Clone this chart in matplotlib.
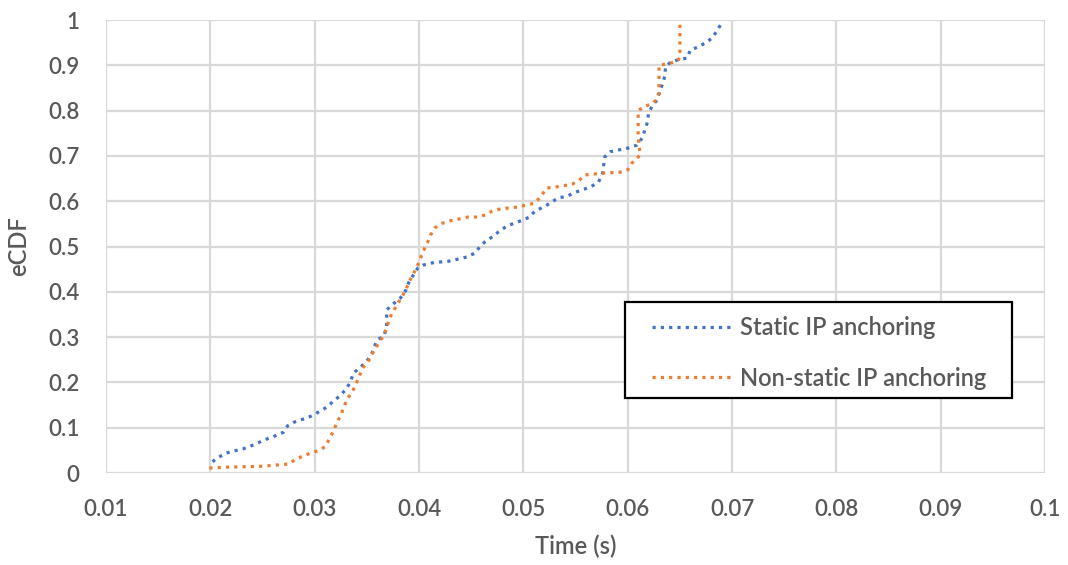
import matplotlib.pyplot as plt
from matplotlib.patches import Rectangle

# eCDF curves (time in s, cumulative fraction)
static_t = [0.0202, 0.0208, 0.0215, 0.0223, 0.0231, 0.0239, 0.0247, 0.0254, 0.0262, 0.0270,
            0.0274, 0.0281, 0.0289, 0.0297, 0.0304, 0.0312, 0.0318, 0.0324, 0.0330, 0.0334,
            0.0337, 0.0344, 0.0350, 0.0355, 0.0357, 0.0360, 0.0366, 0.0369, 0.0369, 0.0375,
            0.0382, 0.0387, 0.0390, 0.0394, 0.0399, 0.0404, 0.0413, 0.0421, 0.0430, 0.0437,
            0.0446, 0.0454, 0.0458, 0.0463, 0.0470, 0.0476, 0.0484, 0.0492, 0.0499, 0.0506,
            0.0511, 0.0519, 0.0526, 0.0533, 0.0542, 0.0548, 0.0556, 0.0564, 0.0572, 0.0576,
            0.0577, 0.0578, 0.0583, 0.0591, 0.0600, 0.0609, 0.0614, 0.0619, 0.0620, 0.0624,
            0.0628, 0.0633, 0.0636, 0.0636, 0.0641, 0.0648, 0.0657, 0.0660, 0.0667, 0.0674,
            0.0681, 0.0686, 0.0691]
static_p = [0.025, 0.035, 0.044, 0.049, 0.053, 0.060, 0.068, 0.075, 0.082, 0.090,
            0.104, 0.113, 0.119, 0.126, 0.135, 0.146, 0.159, 0.170, 0.185, 0.200,
            0.220, 0.234, 0.247, 0.265, 0.278, 0.294, 0.302, 0.320, 0.360, 0.373,
            0.386, 0.402, 0.420, 0.435, 0.453, 0.459, 0.464, 0.466, 0.468, 0.472,
            0.477, 0.486, 0.499, 0.510, 0.521, 0.532, 0.545, 0.552, 0.558, 0.565,
            0.578, 0.587, 0.596, 0.607, 0.611, 0.618, 0.625, 0.631, 0.642, 0.662,
            0.680, 0.698, 0.709, 0.713, 0.717, 0.724, 0.740, 0.775, 0.795, 0.812,
            0.823, 0.857, 0.879, 0.896, 0.907, 0.912, 0.916, 0.934, 0.940, 0.949,
            0.960, 0.978, 0.997]

nonstatic_t = [0.0199, 0.0216, 0.0250, 0.0275, 0.0281, 0.0288, 0.0296, 0.0303, 0.0310, 0.0314,
               0.0318, 0.0321, 0.0325, 0.0328, 0.0331, 0.0336, 0.0340, 0.0346, 0.0353, 0.0356,
               0.0365, 0.0369, 0.0371, 0.0374, 0.0379, 0.0382, 0.0387, 0.0390, 0.0394, 0.0398,
               0.0401, 0.0404, 0.0408, 0.0411, 0.0415, 0.0423, 0.0432, 0.0439, 0.0447, 0.0456,
               0.0464, 0.0470, 0.0478, 0.0486, 0.0494, 0.0504, 0.0511, 0.0517, 0.0522, 0.0530,
               0.0538, 0.0547, 0.0553, 0.0559, 0.0577, 0.0593, 0.0600, 0.0604, 0.0612, 0.0610,
               0.0610, 0.0615, 0.0623, 0.0627, 0.0630, 0.0630, 0.0640, 0.0648, 0.0650, 0.0650]
nonstatic_p = [0.011, 0.013, 0.015, 0.020, 0.029, 0.037, 0.044, 0.049, 0.058, 0.075,
               0.093, 0.110, 0.128, 0.146, 0.163, 0.179, 0.199, 0.232, 0.252, 0.267,
               0.300, 0.320, 0.336, 0.353, 0.371, 0.384, 0.402, 0.420, 0.437, 0.455,
               0.472, 0.490, 0.508, 0.525, 0.541, 0.552, 0.558, 0.561, 0.565, 0.565,
               0.570, 0.578, 0.583, 0.585, 0.587, 0.592, 0.596, 0.611, 0.629, 0.631,
               0.634, 0.638, 0.645, 0.658, 0.662, 0.664, 0.669, 0.684, 0.702, 0.742,
               0.800, 0.808, 0.815, 0.823, 0.840, 0.900, 0.904, 0.910, 0.918, 0.997]

x_ticks = [0.01, 0.02, 0.03, 0.04, 0.05, 0.06, 0.07, 0.08, 0.09, 0.1]
x_labels = ['0.01', '0.02', '0.03', '0.04', '0.05', '0.06', '0.07', '0.08', '0.09', '0.1']
y_ticks = [0, 0.1, 0.2, 0.3, 0.4, 0.5, 0.6, 0.7, 0.8, 0.9, 1]
y_labels = ['0', '0.1', '0.2', '0.3', '0.4', '0.5', '0.6', '0.7', '0.8', '0.9', '1']

plt.rcParams['font.family'] = ['Lato', 'DejaVu Sans']
text_col = '#595959'

fig = plt.figure(figsize=(10.68, 5.65), dpi=100)
ax = fig.add_axes([0.0993, 0.1628, 0.8792, 0.8018])

dots = (0, (1, 1.6))
ax.plot(static_t, static_p, color='#4472C4', lw=2.3, linestyle=dots,
        label='Static IP anchoring', zorder=3)
ax.plot(nonstatic_t, nonstatic_p, color='#ED7D31', lw=2.3, linestyle=dots,
        label='Non-static IP anchoring', zorder=3)

ax.set_xlim(0.01, 0.1)
ax.set_ylim(0, 1)
ax.set_xticks(x_ticks)
ax.set_xticklabels(x_labels)
ax.set_yticks(y_ticks)
ax.set_yticklabels(y_labels)
ax.grid(True, color='#D9D9D9', lw=1.6, zorder=0)
ax.set_axisbelow(True)
for s in ax.spines.values():
    s.set_visible(False)
ax.tick_params(length=0, labelsize=16, labelcolor=text_col)
ax.tick_params(axis='x', pad=19)
ax.tick_params(axis='y', pad=19)
for lbl in ax.get_xticklabels() + ax.get_yticklabels():
    lbl.set_fontweight('semibold')

ax.set_xlabel('Time (s)', fontsize=17, color=text_col, labelpad=10, fontweight='semibold')
ax.set_ylabel('eCDF', fontsize=17, color=text_col, labelpad=13, fontweight='semibold')

# legend box drawn separately so its padding can match the reference
ax.add_patch(Rectangle((0.553, 0.166), 0.412, 0.212, transform=ax.transAxes,
                       facecolor='white', edgecolor='black', lw=1.6, zorder=4))
leg = ax.legend(loc='center', bbox_to_anchor=(0.759, 0.265), fontsize=17,
                frameon=False, handlelength=3.3, handletextpad=0.42,
                labelspacing=1.15, borderaxespad=0)
leg.set_zorder(5)
for t in leg.get_texts():
    t.set_color(text_col)
    t.set_fontweight('semibold')

fig.savefig('out.png', dpi=100)
